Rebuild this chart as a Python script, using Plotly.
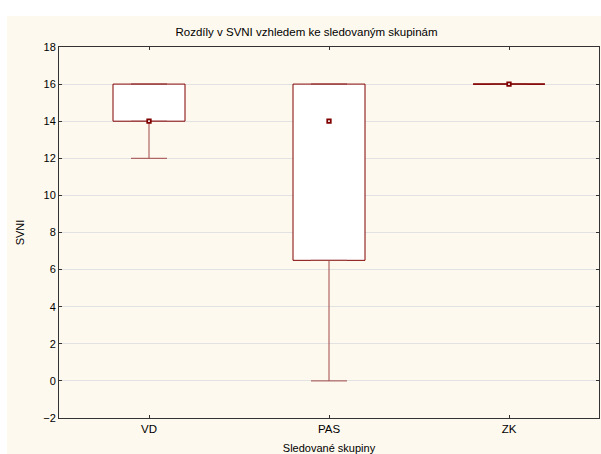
import plotly.graph_objects as go

categories = ["VD", "PAS", "ZK"]
q1 = [14, 6.5, 16]
q3 = [16, 16, 16]
median = [14, 14, 16]
lower = [12, 0, 16]
upper = [16, 16, 16]

title = "Rozdíly v SVNI vzhledem ke sledovaným skupinám"
x_title = "Sledované skupiny"
y_title = "SVNI"
y_ticks = list(range(-2, 19, 2))

RED = "#800000"
FONT = "Liberation Sans, Arial, sans-serif"

fig = go.Figure()

# whiskers (lower): from q1 down to lower fence
fig.add_trace(go.Scatter(
    x=categories, y=q1, mode="markers", marker=dict(size=0.1, color="rgba(0,0,0,0)"),
    error_y=dict(type="data", symmetric=False,
                 array=[0]*len(q1),
                 arrayminus=[a - b for a, b in zip(q1, lower)],
                 color="#a04848", thickness=1, width=18),
    showlegend=False, hoverinfo="skip"))
# whiskers (upper)
fig.add_trace(go.Scatter(
    x=categories, y=q3, mode="markers", marker=dict(size=0.1, color="rgba(0,0,0,0)"),
    error_y=dict(type="data", symmetric=False,
                 array=[a - b for a, b in zip(upper, q3)],
                 arrayminus=[0]*len(q3),
                 color="#a04848", thickness=1, width=18),
    showlegend=False, hoverinfo="skip"))

# boxes
fig.add_trace(go.Bar(
    x=categories, y=[b - a for a, b in zip(q1, q3)], base=q1, width=0.4,
    marker=dict(color="white", line=dict(color=RED, width=1)),
    showlegend=False, hoverinfo="skip"))

# zero-height boxes as lines
fig.add_trace(go.Scatter(
    x=[c for c, a, b in zip(categories, q1, q3) if a == b],
    y=[a for a, b in zip(q1, q3) if a == b],
    mode="markers", marker=dict(symbol="line-ew", size=51, line=dict(color=RED, width=1)),
    showlegend=False, hoverinfo="skip"))

# median markers
fig.add_trace(go.Scatter(
    x=categories, y=median, mode="markers",
    marker=dict(symbol="square", size=3.5, color="white", line=dict(color=RED, width=1.8)),
    showlegend=False, hoverinfo="skip"))

fig.add_shape(type="rect", xref="paper", yref="paper",
              x0=-0.0963, x1=1.2, y0=-0.3, y1=1.0836,
              fillcolor="#FEF9EE", line=dict(width=0), layer="below")

fig.update_layout(
    width=601, height=454,
    margin=dict(l=59, r=2, t=47, b=36),
    paper_bgcolor="white", plot_bgcolor="white",
    font=dict(family=FONT, size=11, color="black"),
    title=dict(text=title, x=0.51, xanchor="center", y=1 - 32/454, yanchor="middle",
               font=dict(size=11.5, family=FONT)),
    bargap=0.6,
)
fig.update_xaxes(
    type="category", range=[-0.5, 2.5],
    showline=True, linecolor="#333", linewidth=1, mirror="ticks",
    ticks="inside", ticklen=3, tickcolor="#333",
    showgrid=False,
    title=dict(text=x_title, standoff=10, font=dict(size=11)),
    tickfont=dict(size=11.5),
)
fig.update_yaxes(
    range=[-2, 18], tickvals=y_ticks,
    showline=True, linecolor="#333", linewidth=1, mirror="ticks",
    ticks="inside", ticklen=3, tickcolor="#333",
    showgrid=True, gridcolor="#e2e2e2", gridwidth=1,
    zeroline=False,
    title=dict(text=y_title, standoff=16, font=dict(size=11)),
    tickfont=dict(size=11),
)

fig.write_html("out.html")
